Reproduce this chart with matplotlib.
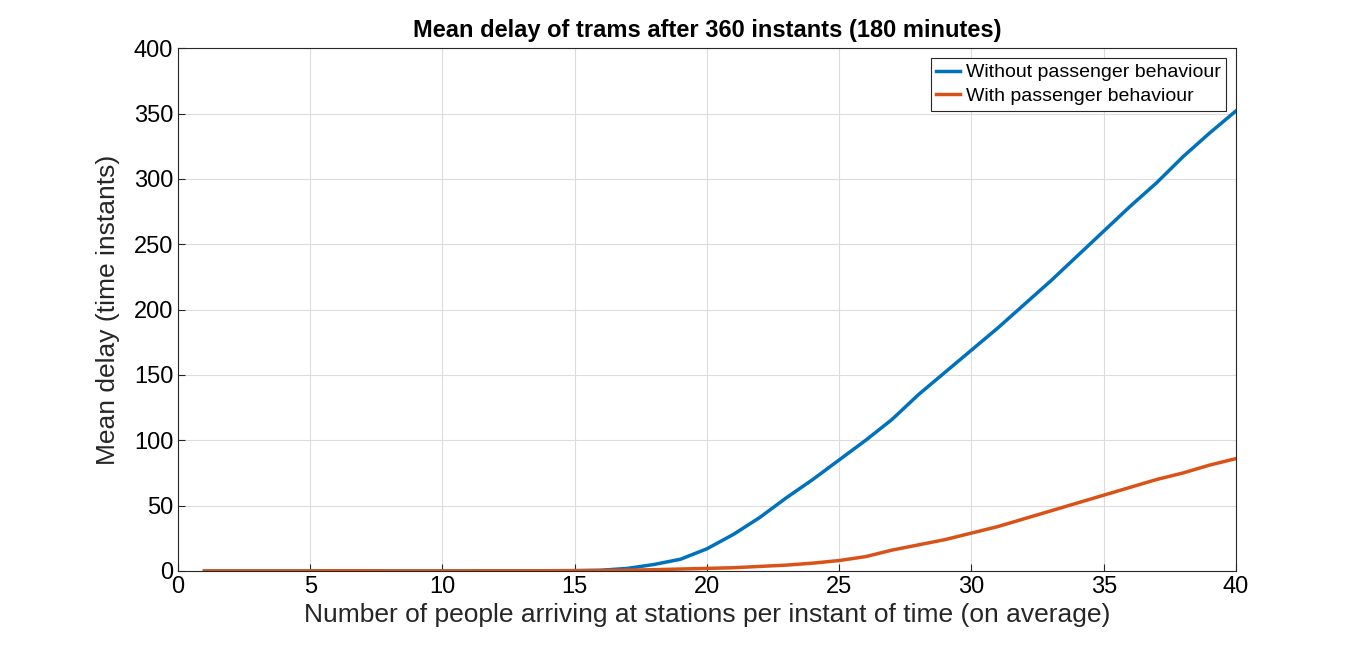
import matplotlib
matplotlib.use("Agg")
import matplotlib.pyplot as plt
import numpy as np

plt.rcParams["font.family"] = ["Liberation Sans", "DejaVu Sans"]

arrivals = np.arange(1, 41)
without_behaviour = [0, 0, 0, 0, 0, 0.2, 0.2, 0, 0, 0,
                     0, 0.1, 0.1, 0.2, 0.3, 0.6, 2, 5, 9, 17,
                     28, 41, 56, 70, 85, 100, 116, 135, 152, 169,
                     186, 204, 222, 241, 260, 279, 297, 317, 335, 352]
with_behaviour = [0, 0, 0, 0, 0, 0.2, 0.2, 0, 0, 0,
                  0, 0.1, 0.1, 0.2, 0.2, 0.3, 0.6, 1, 1.5, 2,
                  2.5, 3.5, 4.5, 6, 8, 11, 16, 20, 24, 29,
                  34, 40, 46, 52, 58, 64, 70, 75, 81, 86]

fig = plt.figure(figsize=(13.66, 6.51), dpi=100)
ax = fig.add_axes([0.1303, 0.1229, 0.7745, 0.8031])
ax.plot(arrivals, without_behaviour, color="#0072BD", linewidth=2.5, label="Without passenger behaviour")
ax.plot(arrivals, with_behaviour, color="#D95319", linewidth=2.5, label="With passenger behaviour")
ax.set_xlim(0, 40)
ax.set_ylim(0, 400)
ax.set_xticks(np.arange(0, 41, 5))
ax.set_yticks(np.arange(0, 401, 50))
ax.grid(True, color="#DCDCDC", linewidth=0.8)
ax.tick_params(labelsize=17, direction="in", length=5, color="#262626")
for s in ax.spines.values():
    s.set_color("#262626")
ax.set_xlabel("Number of people arriving at stations per instant of time (on average)", fontsize=19,
              color="#262626", labelpad=4)
ax.set_ylabel("Mean delay (time instants)", fontsize=19, color="#262626", labelpad=10)
ax.set_title("Mean delay of trams after 360 instants (180 minutes)", fontsize=17, fontweight="bold", pad=8)
leg = ax.legend(loc="upper right", fontsize=14, fancybox=False, framealpha=1, edgecolor="#262626",
                handlelength=1.2, handletextpad=0.3, borderpad=0.3, labelspacing=0.3)
leg.get_frame().set_linewidth(0.8)
fig.savefig("out.png", dpi=100)
